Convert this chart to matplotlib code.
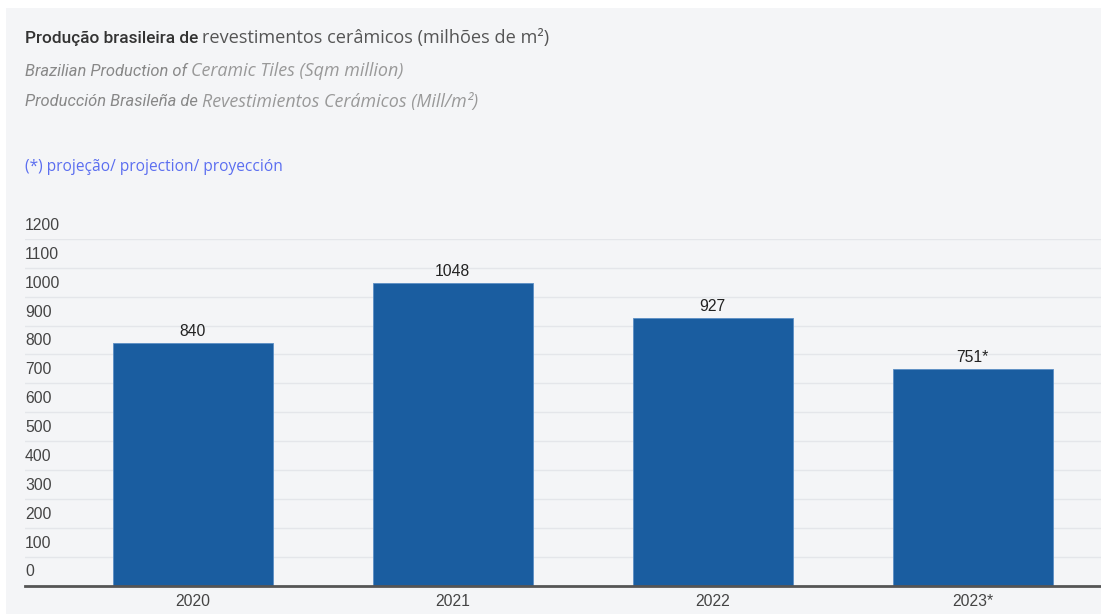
import matplotlib
matplotlib.use("Agg")
import matplotlib.pyplot as plt
import matplotlib.transforms as mtransforms
from matplotlib.patches import Rectangle

# ---- data ----
categories = ["2020", "2021", "2022", "2023*"]
values = [840, 1048, 927, 751]
value_labels = ["840", "1048", "927", "751*"]
yticks = [0, 100, 200, 300, 400, 500, 600, 700, 800, 900, 1000, 1100, 1200]

title_parts = [("Produção brasileira de", "revestimentos cerâmicos (milhões de m²)"),
               ("Brazilian Production of", "Ceramic Tiles (Sqm million)"),
               ("Producción Brasileña de", "Revestimientos Cerámicos (Mill/m²)")]
footnote = "(*) projeção/ projection/ proyección"

W, H = 1101, 614
DPI = 100
fig = plt.figure(figsize=(W / DPI, H / DPI), dpi=DPI)
fig.patch.set_facecolor("white")
BG = "#f4f5f7"
fig.patches.append(Rectangle((6 / W, 0), (W - 6) / W, (H - 8) / H, transform=fig.transFigure,
                             facecolor=BG, edgecolor="none", zorder=-10))

# axes in pixel coordinates
ax_left, ax_right = 25, 1101
ax_top, ax_bottom = 239, 585.5
ax = fig.add_axes([ax_left / W, 1 - ax_bottom / H, (ax_right - ax_left) / W, (ax_bottom - ax_top) / H])
ax.set_facecolor("none")

x = list(range(len(categories)))
ax.bar(x, values, width=0.615, color="#1a5da0", edgecolor="#5b8ec4", linewidth=0.6, zorder=3)
ax.set_xlim(-0.645, 3.493)
ax.set_ylim(0, 1200)

for s in ["top", "right", "left"]:
    ax.spines[s].set_visible(False)
ax.spines["bottom"].set_color("#555555")
ax.spines["bottom"].set_linewidth(2)
ax.spines["bottom"].set_zorder(5)

ax.set_yticks(yticks)
ax.yaxis.grid(True, color="#e4e6ea", linewidth=1, zorder=0)
ax.tick_params(axis="y", length=0, labelleft=False)
ax.set_xticks(x)
ax.set_xticklabels(categories, fontsize=11.3, color="#444444", family="Liberation Sans")
ax.tick_params(axis="x", length=0, pad=6)

ytrans = mtransforms.offset_copy(ax.get_yaxis_transform(), fig=fig, x=0, y=6, units="dots")
for t in yticks:
    ax.text(0, t, str(t), transform=ytrans, ha="left", va="bottom", fontsize=11.3,
            color="#444444", family="Liberation Sans")

vtrans = mtransforms.offset_copy(ax.transData, fig=fig, x=0, y=4, units="dots")
for xi, v, lab in zip(x, values, value_labels):
    ax.text(xi, v, lab, transform=vtrans, ha="center", va="bottom", fontsize=11.3,
            color="#222222", family="Liberation Sans")

# titles with two styles
renderer = fig.canvas.get_renderer()
ys = [38, 71, 102]
styles = [
    (dict(family="Roboto", fontsize=12.4, color="#333333", fontweight="medium"),
     dict(family="Open Sans", fontsize=13.1, color="#555555")),
    (dict(family="Roboto", fontsize=11.9, color="#888888", style="italic"),
     dict(family="Open Sans", fontsize=12.9, color="#999999", style="italic")),
    (dict(family="Roboto", fontsize=11.9, color="#888888", style="italic"),
     dict(family="Open Sans", fontsize=12.9, color="#999999", style="italic")),
]
for (p1, p2), y, (s1, s2) in zip(title_parts, ys, styles):
    t1 = fig.text(25 / W, 1 - y / H, p1, ha="left", va="center", **s1)
    bb = t1.get_window_extent(renderer=renderer)
    fig.text((bb.x1 + 4) / W, 1 - y / H, p2, ha="left", va="center", **s2)

fig.text(25 / W, 1 - 167 / H, footnote, ha="left", va="center", family="Open Sans",
         fontsize=11.2, color="#5b6ef0")

fig.savefig("out.png", dpi=DPI, facecolor=fig.get_facecolor())
